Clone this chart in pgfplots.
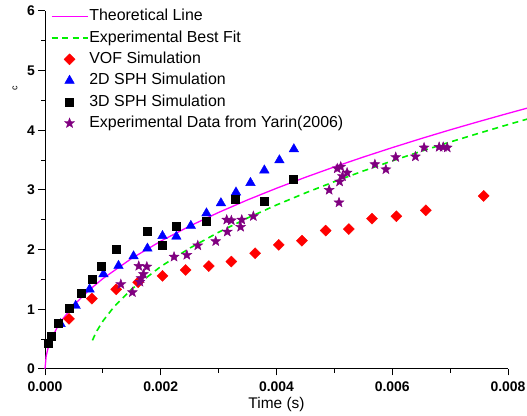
\documentclass[border=0pt]{standalone}
\usepackage{fontspec}
\setmainfont{Liberation Sans}
\usepackage{pgfplots}
\pgfplotsset{compat=1.18}

\definecolor{theo}{RGB}{255,0,255}
\definecolor{fitgreen}{RGB}{0,240,0}
\definecolor{starpurple}{RGB}{128,0,128}

% filled five-pointed star
\pgfdeclareplotmark{fstar}{%
  \pgfpathmoveto{\pgfpointpolar{90}{\pgfplotmarksize}}%
  \pgfpathlineto{\pgfpointpolar{126}{0.42\pgfplotmarksize}}%
  \pgfpathlineto{\pgfpointpolar{162}{\pgfplotmarksize}}%
  \pgfpathlineto{\pgfpointpolar{198}{0.42\pgfplotmarksize}}%
  \pgfpathlineto{\pgfpointpolar{234}{\pgfplotmarksize}}%
  \pgfpathlineto{\pgfpointpolar{270}{0.42\pgfplotmarksize}}%
  \pgfpathlineto{\pgfpointpolar{306}{\pgfplotmarksize}}%
  \pgfpathlineto{\pgfpointpolar{342}{0.42\pgfplotmarksize}}%
  \pgfpathlineto{\pgfpointpolar{18}{\pgfplotmarksize}}%
  \pgfpathlineto{\pgfpointpolar{54}{0.42\pgfplotmarksize}}%
  \pgfpathclose
  \pgfusepathqfillstroke}

\begin{document}
\begin{tikzpicture}
\begin{axis}[
  scale only axis, width=463bp, height=358bp,
  xmin=0, xmax=0.008, ymin=0, ymax=6,
  clip=false,
  axis lines=left,
  axis line style={-, line width=1bp},
  tick align=outside,
  every tick/.style={black, line width=1bp},
  major tick length=6.5bp, minor tick length=4bp,
  xtick={0,0.002,0.004,0.006,0.008},
  minor xtick={0.001,0.003,0.005,0.007},
  ytick={0,1,2,3,4,5,6},
  minor ytick={0.5,1.5,2.5,3.5,4.5,5.5},
  scaled x ticks=false,
  xticklabel style={/pgf/number format/.cd, fixed, fixed zerofill, precision=3,
    /tikz/.cd, yshift=-3bp},
  /pgf/number format/assume math mode=true,
  tick label style={font=\fontsize{14}{16}\selectfont\bfseries},
  xlabel={Time (s)},
  xlabel style={at={(axis description cs:0.5,-0.099)}, anchor=center,
    font=\fontsize{15.5}{17}\selectfont},
  ylabel={c},
  ylabel style={at={(axis description cs:-0.065,0.785)}, anchor=center,
    font=\fontsize{9}{10}\selectfont},
  legend cell align=left,
  legend image code/.code={%
    \draw[mark repeat=2, mark phase=2, #1] plot coordinates {(0bp,0bp) (18bp,0bp) (36bp,0bp)};},
  legend style={draw=none, fill=none, at={(axis description cs:0.012,1.009)},
    anchor=north west, inner sep=0pt, row sep=3.8bp,
    nodes={text height=12bp, text depth=3.5bp, inner sep=1bp},
    font=\fontsize{16}{18}\selectfont},
]
\addplot[theo, line width=1.3bp] coordinates {
(0,0) (0.00002,0.214) (0.00005,0.339) (0.0001,0.479) (0.0002,0.677)
(0.0003,0.830) (0.0005,1.071) (0.00075,1.312) (0.001,1.515) (0.0015,1.855)
(0.002,2.142) (0.0025,2.395) (0.003,2.624) (0.0035,2.834) (0.004,3.029)
(0.0045,3.213) (0.005,3.387) (0.0055,3.552) (0.006,3.710) (0.0065,3.862)
(0.007,4.008) (0.0075,4.148) (0.008,4.284) (0.0084,4.390)};
\addlegendentry{Theoretical Line}

\addplot[fitgreen, line width=1.6bp, dash pattern=on 6bp off 4.5bp] coordinates {
(0.00082,0.480) (0.00086,0.568) (0.0009,0.644) (0.001,0.803) (0.0012,1.052)
(0.0015,1.341) (0.002,1.717) (0.0025,2.025) (0.003,2.292) (0.0035,2.531)
(0.004,2.749) (0.0045,2.951) (0.005,3.140) (0.0055,3.319) (0.006,3.488)
(0.0065,3.649) (0.007,3.804) (0.0075,3.952) (0.008,4.096) (0.0084,4.207)};
\addlegendentry{Experimental Best Fit}

\addplot[only marks, mark=square*, mark size=3.9bp, red,
  mark options={rotate=45, draw=red, fill=red}] coordinates {
(0.000415,0.84) (0.00081,1.18) (0.00123,1.335) (0.00161,1.455) (0.00203,1.56)
(0.00243,1.66) (0.00283,1.725) (0.00322,1.80) (0.00363,1.94) (0.00404,2.08)
(0.00444,2.15) (0.00485,2.32) (0.00525,2.345) (0.00565,2.52) (0.00607,2.56)
(0.00658,2.66) (0.00758,2.90)};
\addlegendentry{VOF Simulation}

\addplot[only marks, mark=triangle*, mark size=5.5bp, blue,
  mark options={draw=blue, fill=blue}] coordinates {
(0.00027,0.755) (0.00053,1.06) (0.00077,1.335) (0.00101,1.59) (0.00127,1.73)
(0.00153,1.89) (0.00177,2.02) (0.00203,2.23) (0.00227,2.22) (0.00252,2.40)
(0.00279,2.61) (0.00304,2.78) (0.0033,2.96) (0.00355,3.12) (0.00379,3.33)
(0.00405,3.50) (0.0043,3.685)};
\addlegendentry{2D SPH Simulation}

\addplot[only marks, mark=square*, mark size=4bp, black,
  mark options={draw=black, fill=black}] coordinates {
(0.00006,0.43) (0.000115,0.55) (0.00022,0.765) (0.000415,1.015) (0.00062,1.27)
(0.00082,1.50) (0.00097,1.73) (0.00123,2.01) (0.00177,2.31) (0.00203,2.08)
(0.00227,2.40) (0.00278,2.47) (0.00328,2.84) (0.00378,2.82) (0.00429,3.18)};
\addlegendentry{3D SPH Simulation}

\addplot[only marks, mark=fstar, mark size=5.2bp, starpurple,
  mark options={draw=starpurple, fill=starpurple}] coordinates {
(0.00131,1.42) (0.00151,1.285) (0.00162,1.725) (0.00176,1.715) (0.00170,1.59)
(0.00166,1.52) (0.00164,1.46) (0.00223,1.88) (0.00245,1.91) (0.00264,2.07)
(0.00295,2.14) (0.00315,2.30) (0.00314,2.50) (0.00322,2.49) (0.00338,2.38)
(0.0034,2.50) (0.0036,2.56) (0.00491,3.00) (0.00508,2.79) (0.00505,3.36)
(0.00511,3.39) (0.00509,3.14) (0.00514,3.23) (0.00522,3.29) (0.0057,3.43)
(0.00589,3.345) (0.00606,3.55) (0.0064,3.56) (0.00655,3.71) (0.00681,3.72)
(0.00688,3.72) (0.00695,3.71)};
\addlegendentry{Experimental Data from Yarin(2006)}

\coordinate (ll) at (rel axis cs:0,0);
\coordinate (ur) at (rel axis cs:1,1);
\end{axis}
\pgfresetboundingbox
\path[use as bounding box] ([shift={(-45bp,-47bp)}]ll) rectangle ([shift={(19bp,11bp)}]ur);
\end{tikzpicture}
\end{document}
